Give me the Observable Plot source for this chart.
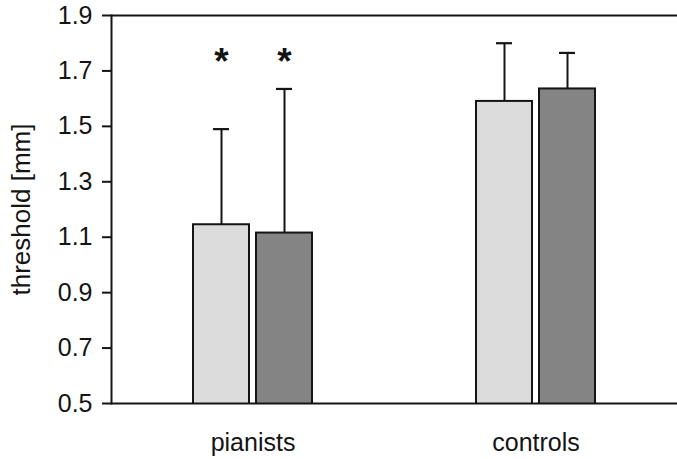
<!DOCTYPE html>
<html>
<head>
<meta charset="utf-8">
<script src="https://cdn.jsdelivr.net/npm/d3@7"></script>
<script src="https://cdn.jsdelivr.net/npm/@observablehq/plot@0.6"></script>
<style>
  html, body { margin: 0; padding: 0; background: #fff; }
  #chart { font-family: "Liberation Sans", Arial, sans-serif; }
</style>
</head>
<body>
<div id="chart"></div>
<script>
const groups = ["pianists", "controls"];
const conditions = ["condition 1", "condition 2"];
const means = [[1.145, 1.115], [1.590, 1.635]];
const sds = [[0.345, 0.520], [0.210, 0.130]];
const marks = [["*", "*"], ["", ""]];
const yTicks = [0.5, 0.7, 0.9, 1.1, 1.3, 1.5, 1.7, 1.9];
const starLevel = 1.73;

const rows = [];
groups.forEach((g, i) => conditions.forEach((c, j) => {
  rows.push({group: g, cond: c, mean: means[i][j], top: means[i][j] + sds[i][j], star: marks[i][j]});
}));

const ink = "#141414";
const chart = Plot.plot({
  width: 677,
  height: 459,
  marginLeft: 111,
  marginRight: 0,
  marginTop: 15,
  marginBottom: 56,
  style: {fontFamily: "Liberation Sans, Arial, sans-serif", background: "#fff", color: ink},
  fx: {domain: groups, paddingInner: 0, paddingOuter: 0, label: null},
  x: {domain: conditions, paddingInner: 0.116, paddingOuter: 1.27, axis: null},
  y: {domain: [0.5, 1.9], axis: null},
  color: {domain: conditions, range: ["#dcdcdc", "#848484"]},
  marks: [
    Plot.barY(rows, {fx: "group", x: "cond", y: "mean", fill: "cond", stroke: ink, strokeWidth: 2, clip: true}),
    Plot.ruleX(rows, {fx: "group", x: "cond", y1: "mean", y2: "top", stroke: ink, strokeWidth: 2}),
    Plot.tickY(rows, {fx: "group", x: "cond", y: "top", stroke: ink, strokeWidth: 2.2, insetLeft: 20, insetRight: 20}),
    Plot.text(rows, {fx: "group", x: "cond", y: () => starLevel, text: "star", fontSize: 37, fontWeight: "bold", fill: ink}),
    Plot.ruleY([0.5, 1.9], {stroke: ink, strokeWidth: 2}),
    Plot.frame({anchor: "left", facetAnchor: "left", stroke: ink, strokeWidth: 2}),
    Plot.axisY({ticks: yTicks, tickFormat: d3.format(".1f"), tickSize: 9, tickPadding: 10, fontSize: 25, strokeWidth: 2, stroke: ink, fill: ink, label: null}),
    Plot.axisY({ticks: [], tickSize: 0, fontSize: 26, fill: ink, label: "threshold [mm]", labelArrow: "none", labelAnchor: "center", labelOffset: 100}),
    Plot.axisFx({anchor: "bottom", tickSize: 0, tickPadding: 30, fontSize: 25, label: null, fill: ink})
  ]
});
document.getElementById("chart").appendChild(chart);
</script>
</body>
</html>
